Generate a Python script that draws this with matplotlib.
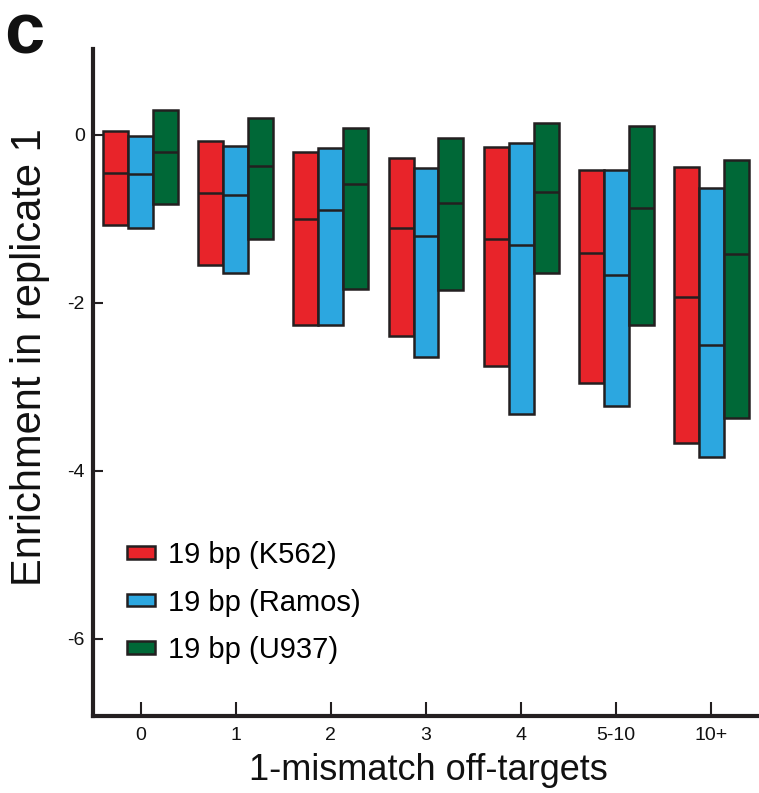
import numpy as np
import matplotlib
matplotlib.use('Agg')
import matplotlib.pyplot as plt

plt.rcParams['font.family'] = ['Liberation Sans', 'DejaVu Sans']
plt.rcParams['axes.unicode_minus'] = False

# data (top, median, bottom of each bar)
categories = ['0', '1', '2', '3', '4', '5-10', '10+']
series = ['19 bp (K562)', '19 bp (Ramos)', '19 bp (U937)']
colors = ['#E8242A', '#2CA7E0', '#006837']

k562_top = [0.05, -0.08, -0.20, -0.28, -0.15, -0.42, -0.38]
k562_med = [-0.45, -0.69, -1.00, -1.11, -1.24, -1.41, -1.93]
k562_bot = [-1.08, -1.55, -2.27, -2.39, -2.75, -2.95, -3.67]

ramos_top = [-0.01, -0.13, -0.16, -0.39, -0.10, -0.42, -0.63]
ramos_med = [-0.47, -0.72, -0.89, -1.20, -1.31, -1.67, -2.50]
ramos_bot = [-1.11, -1.65, -2.26, -2.65, -3.33, -3.23, -3.84]

u937_top = [0.30, 0.20, 0.08, -0.04, 0.14, 0.10, -0.30]
u937_med = [-0.20, -0.37, -0.59, -0.81, -0.68, -0.87, -1.42]
u937_bot = [-0.83, -1.24, -1.84, -1.85, -1.64, -2.27, -3.37]

tops = [k562_top, ramos_top, u937_top]
meds = [k562_med, ramos_med, u937_med]
bots = [k562_bot, ramos_bot, u937_bot]

edge = '#231F20'
w = 0.262

fig = plt.figure(figsize=(7.59, 7.93), dpi=100)
ax = fig.add_axes([0.1225, 0.0971, 0.8775, 0.841])

x = np.arange(len(categories))
for i in range(3):
    xi = x + (i - 1) * w
    top = np.array(tops[i])
    bot = np.array(bots[i])
    ax.bar(xi, top - bot, bottom=bot, width=w, color=colors[i],
           edgecolor=edge, linewidth=1.8, label=series[i], zorder=2)
    ax.hlines(meds[i], xi - w / 2, xi + w / 2, color=edge, linewidth=1.8,
              zorder=3)

ax.set_xlim(-0.5, 6.5)
ax.set_ylim(-6.92, 1.02)
ax.set_xticks(x)
ax.set_xticklabels(categories, fontsize=14)
ax.set_yticks([0, -2, -4, -6])
ax.set_yticklabels(['0', '-2', '-4', '-6'], fontsize=14)
ax.tick_params(axis='x', direction='in', length=10, width=1.5, colors=edge,
               pad=8)
ax.tick_params(axis='y', direction='in', length=7, width=1.5, colors=edge,
               pad=6)
ax.tick_params(labelcolor='#111111')

for s in ['top', 'right']:
    ax.spines[s].set_visible(False)
for s in ['left', 'bottom']:
    ax.spines[s].set_linewidth(3)
    ax.spines[s].set_color(edge)

ax.set_xlabel('1-mismatch off-targets', fontsize=26, color='#111111')
ax.xaxis.set_label_coords(0.503, -0.055)
ax.set_ylabel('Enrichment in replicate 1', fontsize=30, color='#111111')
ax.yaxis.set_label_coords(-0.064, 0.538)

leg = ax.legend(loc='upper left', bbox_to_anchor=(0.051, 0.262), frameon=False,
                fontsize=21, handlelength=0.95, handleheight=0.3,
                handletextpad=0.45, labelspacing=0.66, borderpad=0,
                borderaxespad=0)

fig.text(0.006, 0.999, 'c', fontsize=52, fontweight='bold', va='top',
         ha='left', color='#111111')

fig.savefig('out.png', dpi=100)
